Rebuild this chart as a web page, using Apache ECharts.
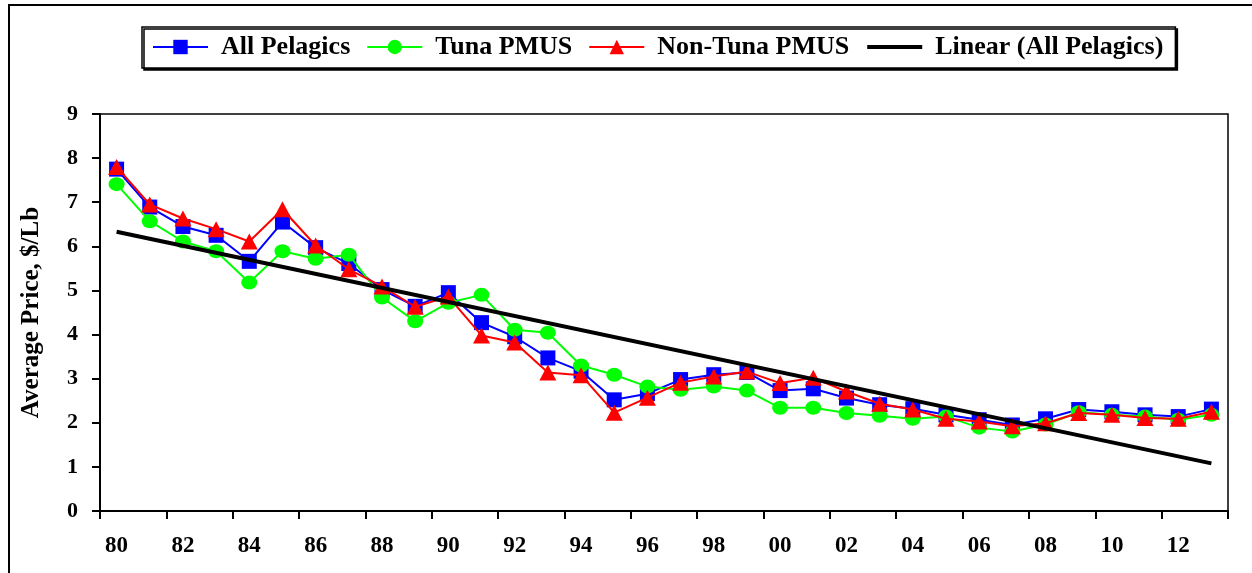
<!DOCTYPE html>
<html>
<head>
<meta charset="utf-8">
<script src="https://cdn.jsdelivr.net/npm/echarts@6/dist/echarts.min.js"></script>
<style>
html,body{margin:0;padding:0;background:#fff;}
#chart{width:1252px;height:573px;}
</style>
</head>
<body>
<div id="chart"></div>
<script>
const years = ['80','81','82','83','84','85','86','87','88','89','90','91','92','93','94','95','96','97','98','99','00','01','02','03','04','05','06','07','08','09','10','11','12','13'];
const allPelagics = [7.75,6.89,6.45,6.25,5.66,6.55,5.97,5.61,5.02,4.64,4.95,4.27,3.95,3.47,3.17,2.52,2.66,2.98,3.09,3.14,2.73,2.77,2.56,2.41,2.32,2.18,2.07,1.95,2.09,2.30,2.25,2.18,2.14,2.31];
const tunaPMUS = [7.41,6.57,6.11,5.89,5.18,5.89,5.72,5.81,4.84,4.30,4.72,4.90,4.11,4.04,3.30,3.09,2.82,2.75,2.82,2.73,2.34,2.34,2.22,2.16,2.09,2.14,1.89,1.80,1.96,2.24,2.18,2.14,2.07,2.18];
const nonTunaPMUS = [7.80,6.95,6.63,6.39,6.11,6.84,6.02,5.48,5.09,4.63,4.86,3.98,3.82,3.14,3.08,2.23,2.57,2.91,3.05,3.16,2.90,3.02,2.71,2.43,2.30,2.09,2.03,1.92,1.99,2.22,2.18,2.11,2.09,2.25];
const trendYears = ['80','13'];
const trendValues = [6.33,1.08];
const seriesNames = ['All Pelagics','Tuna PMUS','Non-Tuna PMUS','Linear (All Pelagics)'];

const FONT = 'Liberation Serif';
const chart = echarts.init(document.getElementById('chart'), null, {renderer:'canvas'});
chart.setOption({
  backgroundColor:'#fff',
  animation:false,
  graphic:[{
    type:'rect', silent:true, z:-10,
    shape:{x:9, y:5, width:1300, height:700},
    style:{fill:'none', stroke:'#000', lineWidth:2}
  }],
  legend:{
    left:142, top:27,
    padding:[7,12,8,10],
    itemGap:16,
    itemWidth:55, itemHeight:18,
    backgroundColor:'#fff',
    borderColor:'#000', borderWidth:1.5,
    shadowColor:'#000', shadowBlur:0, shadowOffsetX:2, shadowOffsetY:2,
    textStyle:{fontFamily:FONT, fontWeight:'bold', fontSize:26, color:'#000', padding:[0,0,0,8]},
    data:[
      {name:seriesNames[0], lineStyle:{width:2}},
      {name:seriesNames[1], lineStyle:{width:2}},
      {name:seriesNames[2], lineStyle:{width:2}},
      {name:seriesNames[3], itemStyle:{opacity:0}, lineStyle:{width:4}}
    ]
  },
  grid:{left:100, right:24, top:114, bottom:62, show:true, borderColor:'#000', borderWidth:1.5, containLabel:false},
  xAxis:{
    type:'category', data:years, boundaryGap:true,
    axisLine:{lineStyle:{color:'#000', width:2}},
    axisTick:{show:true, interval:1, length:8, lineStyle:{color:'#000', width:2}},
    axisLabel:{interval:1, margin:24, fontFamily:FONT, fontWeight:'bold', fontSize:23, color:'#000'},
    splitLine:{show:false}
  },
  yAxis:{
    type:'value', min:0, max:9, interval:1,
    name:'Average Price, $/Lb', nameLocation:'middle', nameGap:56,
    nameTextStyle:{fontFamily:FONT, fontWeight:'bold', fontSize:25, color:'#000'},
    axisLine:{show:true, lineStyle:{color:'#000', width:2}},
    axisTick:{show:true, length:8, lineStyle:{color:'#000', width:2}},
    axisLabel:{margin:22, fontFamily:FONT, fontWeight:'bold', fontSize:22, color:'#000'},
    splitLine:{show:false}
  },
  series:[
    {name:seriesNames[0], type:'line', data:allPelagics, symbol:'rect', symbolSize:15, z:2,
     itemStyle:{color:'#0000FF'}, lineStyle:{color:'#0000FF', width:2}},
    {name:seriesNames[1], type:'line', data:tunaPMUS, symbol:'circle', symbolSize:[16,14], z:3,
     itemStyle:{color:'#00FF00'}, lineStyle:{color:'#00FF00', width:2}},
    {name:seriesNames[2], type:'line', data:nonTunaPMUS, symbol:'triangle', symbolSize:[17,16], z:4,
     itemStyle:{color:'#FF0000'}, lineStyle:{color:'#FF0000', width:2}},
    {name:seriesNames[3], type:'line', data:trendYears.map((y,i)=>[y,trendValues[i]]), symbol:'none', z:5,
     itemStyle:{color:'#000'}, lineStyle:{color:'#000', width:4}}
  ]
});
</script>
</body>
</html>
